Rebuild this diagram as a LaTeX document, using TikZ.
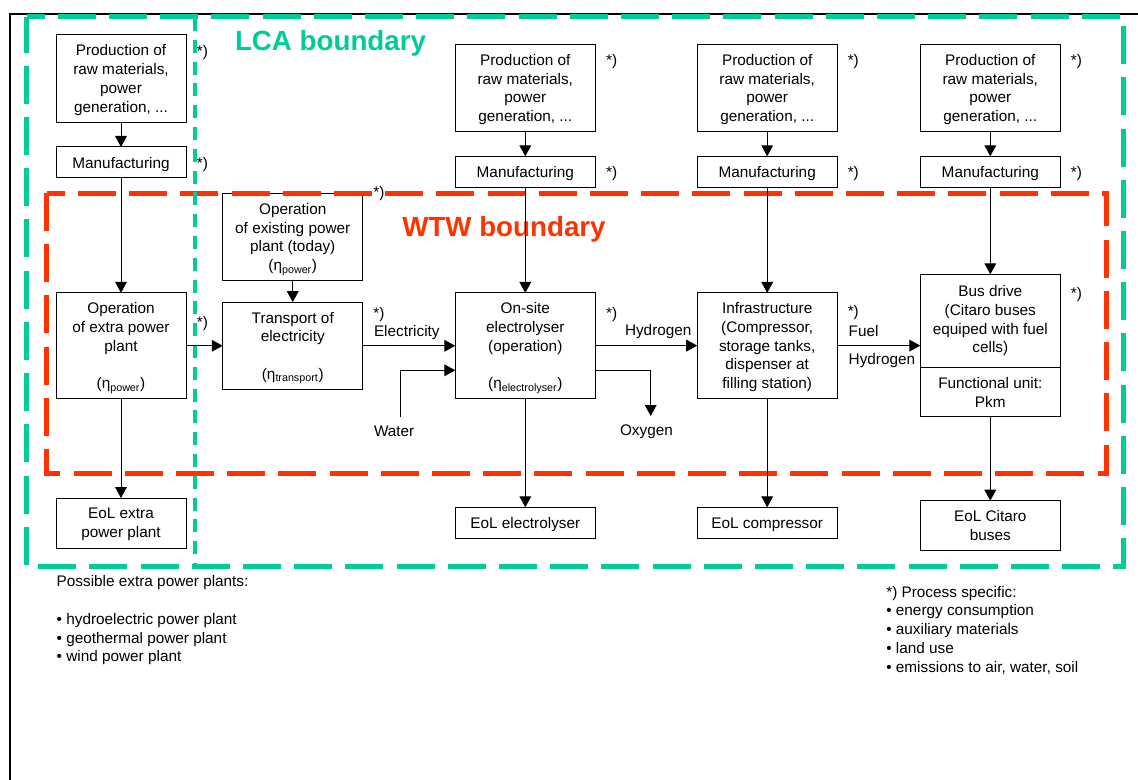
\documentclass[tikz,border=0pt]{standalone}
\usepackage{fontspec}
\setmainfont{Liberation Sans}
\usetikzlibrary{arrows.meta}
\definecolor{lcagreen}{HTML}{00CC99}
\definecolor{wtwred}{HTML}{FF3300}
\newcommand{\etasub}[1]{(η\textsubscript{#1})}
\begin{document}
\begin{tikzpicture}
  [x=0.75pt,y=-0.75pt,
  every node/.style={font=\fontsize{11.5}{14.1}\selectfont},
  widebox/.style={rectangle,draw=black,line width=0.75pt,align=center,
                  outer sep=0,inner sep=0,minimum width=105pt},
  narrowbox/.style={widebox,minimum width=97.5pt},
  rawbox/.style={minimum height=65.5pt,text depth=-2.6pt},
  manubox/.style={minimum height=23.25pt,text depth=-1.2pt},
  procbox/.style={minimum height=79pt,text depth=-4pt},
  eolbox/.style={minimum height=37.5pt,text depth=-0.6pt},
  note/.style={inner sep=0,outer sep=0,anchor=base west},
  star/.style={inner sep=0,outer sep=0,anchor=base},
  listing/.style={inner sep=0,outer sep=0,anchor=north west,align=left},
  boundary/.style={inner sep=0,outer sep=0,anchor=base west,
                  font=\fontsize{20.8}{24}\selectfont\bfseries},
  frameline/.style={black,line width=1.5pt},
  lcaline/.style={lcagreen,line width=3.75pt,dash pattern=on 28.5pt off 9.9pt,
                  dash phase=15pt},
  wtwline/.style={wtwred,line width=3.75pt,dash pattern=on 28.5pt off 9.9pt,
                  dash phase=15pt},
  lcainner/.style={lcagreen,line width=3pt,dash pattern=on 9.75pt off 6.6pt},
  flow/.style={draw=black,line width=0.75pt,
                  -{Triangle[length=8.25pt,width=8.8pt]}}
                  ]
  \useasboundingbox (0,0) rectangle (1138,780);

  % left column
  \node[narrowbox,rawbox] (raw1) at (121,78.5)
    {Production of\\raw materials,\\power\\generation, ...};
  \node[narrowbox,manubox] (manu1) at (121,162.5) {Manufacturing};
  \node[narrowbox,procbox] (extra) at (121,345.5)
    {Operation\\of extra power\\plant\\ \\\etasub{power}};
  \node[narrowbox,eolbox] (eol1) at (121,523) {EoL extra\\power plant};
  \node[widebox,rawbox,text depth=-3.5pt] (existing) at (292.75,237)
    {Operation\\of existing power\\plant (today)\\\etasub{power}};
  \node[widebox,rawbox,text depth=-3pt] (transport) at (292.75,345.8)
    {Transport of\\electricity\\ \\\etasub{transport}};

  % electrolyser column
  \node[widebox,rawbox] (raw2) at (525.3,88)
    {Production of\\raw materials,\\power\\generation, ...};
  \node[widebox,manubox] (manu2) at (525.3,171.8) {Manufacturing};
  \node[widebox,procbox] (elec) at (525.3,345.6)
    {On-site\\electrolyser\\(operation)\\ \\\etasub{electrolyser}};
  \node[widebox,manubox,text depth=-2pt] (eol2) at (525.3,522.8) {EoL electrolyser};

  % infrastructure column
  \node[widebox,rawbox] (raw3) at (767.2,88)
    {Production of\\raw materials,\\power\\generation, ...};
  \node[widebox,manubox] (manu3) at (767.2,171.8) {Manufacturing};
  \node[widebox,procbox,text depth=-5pt] (infra) at (767.2,345.6)
    {Infrastructure\\(Compressor,\\storage tanks,\\dispenser at\\filling station)};
  \node[widebox,manubox,text depth=-2pt] (eol3) at (767.2,522.8) {EoL compressor};

  % bus column
  \node[widebox,rawbox] (raw4) at (990.3,88)
    {Production of\\raw materials,\\power\\generation, ...};
  \node[widebox,manubox] (manu4) at (990.3,171.8) {Manufacturing};
  \node[widebox,minimum height=69.75pt] (bus) at (990.3,320.8)
    {Bus drive\\(Citaro buses\\equiped with fuel\\cells)};
  \node[widebox,minimum height=37.25pt,text depth=-1.3pt] (unit) at (990.3,392.15)
    {Functional unit:\\Pkm};
  \node[widebox,eolbox,text depth=-1.3pt] (eol4) at (990.3,525.7) {EoL Citaro\\buses};

  % frame and boundaries
  \coordinate (fbl) at (10,780);
  \coordinate (ftl) at (10,14);
  \coordinate (ftr) at (1138,14);
  \draw[frameline] (fbl) -- (ftl) -- (ftr);
  \coordinate (l1) at (26.5,16.7);
  \coordinate (l2) at (1123.3,16.7);
  \coordinate (l3) at (1123.3,566.3);
  \coordinate (l4) at (26.5,566.3);
  \draw[lcaline] (l1) -- (l2) -- (l3) -- (l4) -- cycle;
  \coordinate (w1) at (46.7,193.3);
  \coordinate (w2) at (1106.7,193.3);
  \coordinate (w3) at (1106.7,473.3);
  \coordinate (w4) at (46.7,473.3);
  \draw[wtwline] (w1) -- (w2) -- (w3) -- (w4) -- cycle;
  \coordinate (li1) at (195,18);
  \coordinate (li2) at (195,568);
  \draw[lcainner] (li1) -- (li2);
  \node[boundary,text=lcagreen] (lcalabel) at (235,51) {LCA boundary};
  \node[boundary,text=wtwred] (wtwlabel) at (402.3,237) {WTW boundary};

  % process labels
  \node[star] (s1a) at (202.5,57) {*)};
  \node[star] (s1b) at (202.5,169) {*)};
  \node[star] (s1c) at (202.5,327.3) {*)};
  \node[star] (sexist) at (379,197.3) {*)};
  \node[star] (strans) at (379,318.3) {*)};
  \node[star] (s2a) at (611.7,65.5) {*)};
  \node[star] (s2b) at (611.7,178) {*)};
  \node[star] (s2c) at (611.7,318.3) {*)};
  \node[star] (s3a) at (853.3,65.5) {*)};
  \node[star] (s3b) at (853.3,178) {*)};
  \node[star] (s3c) at (853.3,316.3) {*)};
  \node[star] (s4a) at (1076.5,65.5) {*)};
  \node[star] (s4b) at (1076.5,178) {*)};
  \node[star] (s4c) at (1076.5,299) {*)};
  \node[note] (electricity) at (374,336.5) {Electricity};
  \node[note] (water) at (374,436.5) {Water};
  \node[note] (hydrogen1) at (625,335.7) {Hydrogen};
  \node[note] (oxygen) at (620,435.5) {Oxygen};
  \node[note] (fuel) at (848.7,336.5) {Fuel};
  \node[note] (hydrogen2) at (848.7,364) {Hydrogen};

  % lists
  \node[listing] (plants) at (56.7,575.6)
    {Possible extra power plants:\\ \\• hydroelectric power plant\\• geothermal power plant\\• wind power plant};
  \node[listing] (specific) at (886.3,586)
    {*) Process specific:\\• energy consumption\\• auxiliary materials\\• land use\\• emissions to air, water, soil};

  % connectors
  \coordinate (waterin) at (400,417);
  \coordinate (elecin) at (455.3,370.3);
  \coordinate (elecout) at (595.3,370.3);
  \coordinate (oxyout) at (650.7,416);
  \draw[flow] (raw1) to (manu1);
  \draw[flow] (manu1) to (extra);
  \draw[flow] (extra) to (eol1);
  \draw[flow] (existing) to (transport);
  \draw[flow] (extra.east |- transport) to (transport);
  \draw[flow] (transport) to (elec.west |- transport);
  \draw[flow] (waterin) |- (elecin);
  \draw[flow] (raw2) to (manu2);
  \draw[flow] (manu2) to (elec);
  \draw[flow] (elec) to (eol2);
  \draw[flow] (elec) to (infra);
  \draw[flow] (elecout) -| (oxyout);
  \draw[flow] (raw3) to (manu3);
  \draw[flow] (manu3) to (infra);
  \draw[flow] (infra) to (eol3);
  \draw[flow] (infra.east) to (bus.west |- infra.east);
  \draw[flow] (raw4) to (manu4);
  \draw[flow] (manu4) to (bus);
  \draw[flow] (unit) to (eol4);
\end{tikzpicture}
\end{document}
